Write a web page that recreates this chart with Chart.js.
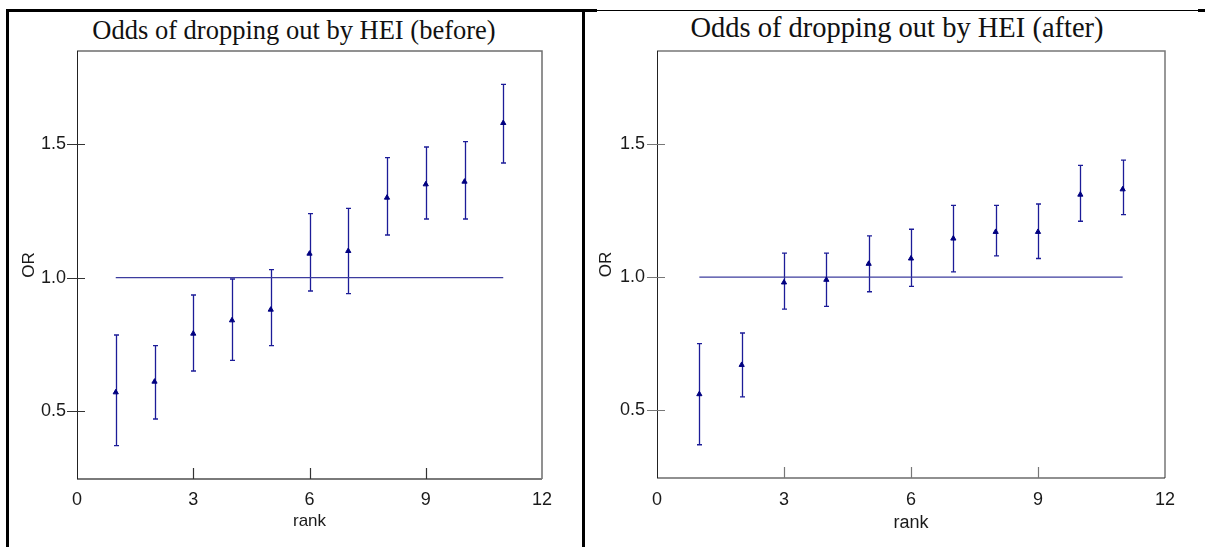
<!DOCTYPE html>
<html>
<head>
<meta charset="utf-8">
<script src="https://cdn.jsdelivr.net/npm/chart.js@4.4.0/dist/chart.umd.min.js"></script>
<style>
  html, body { margin: 0; padding: 0; background: #fff; width: 1205px; height: 547px; overflow: hidden; }
  body { position: relative; }
  .ln { position: absolute; background: #000; }
  .wrap { position: absolute; top: 0; height: 547px; }
  .ttl { position: absolute; text-align: center; white-space: nowrap; color: #111;
         font-family: 'Liberation Serif', 'Times New Roman', serif; }
</style>
</head>
<body>
<div class="ln" style="left:6px;top:9px;width:591px;height:3px"></div>
<div class="ln" style="left:597px;top:10px;width:601px;height:1px"></div>
<div class="ln" style="left:1198px;top:9px;width:7px;height:3px"></div>
<div class="ln" style="left:6px;top:9px;width:3px;height:538px"></div>
<div class="ln" style="left:582px;top:10px;width:2.5px;height:537px"></div>
<div class="ttl" style="left:0px;top:14px;width:588px;font-size:26.5px;line-height:32px">Odds of dropping out by HEI (before)</div>
<div class="ttl" style="left:600px;top:11px;width:594px;font-size:28.5px;line-height:34px">Odds of dropping out by HEI (after)</div>
<div class="wrap" style="left:8px;width:575px"><canvas id="before" width="575" height="547"></canvas></div>
<div class="wrap" style="left:590px;width:614px"><canvas id="after" width="614" height="547"></canvas></div>
<script>
const ranks = [1, 2, 3, 4, 5, 6, 7, 8, 9, 10, 11];
const xTickValues = [0, 3, 6, 9, 12];
const yTickValues = [0.5, 1.0, 1.5];
const refLineX = [1, 11];

// odds ratio + 95% interval, before
const beforeOR   = [0.57, 0.61, 0.79, 0.84, 0.88, 1.09, 1.10, 1.30, 1.35, 1.36, 1.58];
const beforeLow  = [0.37, 0.47, 0.65, 0.69, 0.745, 0.95, 0.94, 1.16, 1.22, 1.22, 1.43];
const beforeHigh = [0.785, 0.745, 0.935, 0.995, 1.03, 1.24, 1.26, 1.45, 1.49, 1.51, 1.725];

// after
const afterOR   = [0.56, 0.67, 0.98, 0.99, 1.05, 1.07, 1.145, 1.17, 1.17, 1.31, 1.33];
const afterLow  = [0.37, 0.55, 0.88, 0.89, 0.945, 0.965, 1.02, 1.08, 1.07, 1.21, 1.235];
const afterHigh = [0.75, 0.79, 1.09, 1.09, 1.155, 1.18, 1.27, 1.27, 1.275, 1.42, 1.44];

const NAVY = '#000080';
const sans = "'Liberation Sans', Arial, sans-serif";

const errorBars = {
  id: 'errorBars',
  beforeDatasetsDraw(chart, args, o) {
    const {ctx, scales: {x, y}} = chart;
    ctx.save();
    ctx.strokeStyle = '#1c1c98';
    ctx.lineWidth = 1.3;
    ranks.forEach((r, i) => {
      const px = Math.round(x.getPixelForValue(r)) + 0.5;
      const top = y.getPixelForValue(o.high[i]);
      const bot = y.getPixelForValue(o.low[i]);
      ctx.beginPath();
      ctx.moveTo(px, top); ctx.lineTo(px, bot);
      ctx.moveTo(px - 2.5, top); ctx.lineTo(px + 2.5, top);
      ctx.moveTo(px - 2.5, bot); ctx.lineTo(px + 2.5, bot);
      ctx.stroke();
    });
    ctx.restore();
  }
};

const frame = {
  id: 'frame',
  beforeDatasetsDraw(chart, args, o) {
    const {ctx, chartArea: a, scales: {x, y}} = chart;
    ctx.save();
    // top + right of box
    ctx.strokeStyle = o.boxColor;
    ctx.lineWidth = 1.5;
    ctx.beginPath();
    ctx.moveTo(a.left, a.top); ctx.lineTo(a.right, a.top); ctx.lineTo(a.right, a.bottom);
    ctx.stroke();
    // axes
    ctx.strokeStyle = o.xAxisColor;
    ctx.lineWidth = o.xAxisWidth;
    ctx.beginPath(); ctx.moveTo(a.left, a.bottom); ctx.lineTo(a.right, a.bottom); ctx.stroke();
    ctx.strokeStyle = '#222';
    ctx.lineWidth = 1;
    ctx.beginPath(); ctx.moveTo(a.left + 0.5, a.top); ctx.lineTo(a.left + 0.5, a.bottom); ctx.stroke();
    // tick marks
    ctx.strokeStyle = o.tickColor;
    ctx.lineWidth = 1.2;
    ctx.beginPath();
    y.ticks.forEach(t => {
      const py = Math.round(y.getPixelForValue(t.value)) + 0.5;
      ctx.moveTo(a.left - 10, py); ctx.lineTo(a.left + 8, py);
    });
    x.ticks.forEach(t => {
      if (t.value === x.min || t.value === x.max) return;
      const px = Math.round(x.getPixelForValue(t.value)) + 0.5;
      ctx.moveTo(px, a.bottom); ctx.lineTo(px, a.bottom - 11);
    });
    ctx.stroke();
    ctx.restore();
  }
};

function makeChart(id, s) {
  return new Chart(document.getElementById(id), {
    type: 'scatter',
    data: {
      datasets: [
        {data: ranks.map((r, i) => ({x: r, y: s.or[i]})), pointStyle: 'triangle', pointRadius: 3, pointBackgroundColor: NAVY, pointBorderColor: NAVY, pointBorderWidth: 1},
        {data: refLineX.map(v => ({x: v, y: 1})), showLine: true, pointRadius: 0, borderColor: '#3c3c9e', borderWidth: 1.2}
      ]
    },
    options: {
      responsive: false,
      animation: false,
      layout: {padding: {left: 0, right: s.padRight, top: 51, bottom: 0}},
      plugins: {
        legend: {display: false},
        tooltip: {enabled: false},
        title: {display: false},
        errorBars: {low: s.low, high: s.high},
        frame: {boxColor: s.boxColor, xAxisColor: s.xAxisColor, xAxisWidth: s.xAxisWidth, tickColor: s.tickColor}
      },
      scales: {
        x: {
          type: 'linear', min: 0, max: 12,
          afterBuildTicks: sc => { sc.ticks = xTickValues.map(v => ({value: v})); },
          afterFit: sc => { sc.height = s.xHeight; },
          grid: {display: false, drawTicks: false},
          border: {display: false},
          ticks: {autoSkip: false, maxRotation: 0, padding: s.xTickPad, color: '#1a1a1a', font: {family: sans, size: 18}, callback: v => String(v)},
          title: {display: true, text: 'rank', color: '#1a1a1a', font: {family: sans, size: s.axisTitleSize, lineHeight: 1.2}, padding: {top: 0, bottom: s.rankPad}}
        },
        y: {
          type: 'linear', min: 0.245, max: 1.85,
          afterBuildTicks: sc => { sc.ticks = yTickValues.map(v => ({value: v})); },
          afterFit: sc => { sc.width = s.yWidth; },
          grid: {display: false, drawTicks: false},
          border: {display: false},
          ticks: {padding: s.yTickPad, color: '#1a1a1a', font: {family: sans, size: 18}, callback: v => v.toFixed(1)},
          title: {display: true, text: 'OR', color: '#1a1a1a', font: {family: sans, size: 17, lineHeight: 1.2}, padding: {top: s.orPad, bottom: 0}}
        }
      }
    },
    plugins: [errorBars, frame]
  });
}

makeChart('before', {
  or: beforeOR, low: beforeLow, high: beforeHigh,
  padRight: 41, yWidth: 69, xHeight: 68, xTickPad: 10, yTickPad: 11, rankPad: 15.8, orPad: 11.4,
  axisTitleSize: 17,
  boxColor: '#6e6e6e', xAxisColor: '#7a7a7a', xAxisWidth: 2, tickColor: '#333'
});

makeChart('after', {
  or: afterOR, low: afterLow, high: afterHigh,
  padRight: 39, yWidth: 67, xHeight: 69, xTickPad: 11.5, yTickPad: 12, rankPad: 13.2, orPad: 6,
  axisTitleSize: 18,
  boxColor: '#777', xAxisColor: '#222', xAxisWidth: 1.2, tickColor: '#777'
});
</script>
</body>
</html>
